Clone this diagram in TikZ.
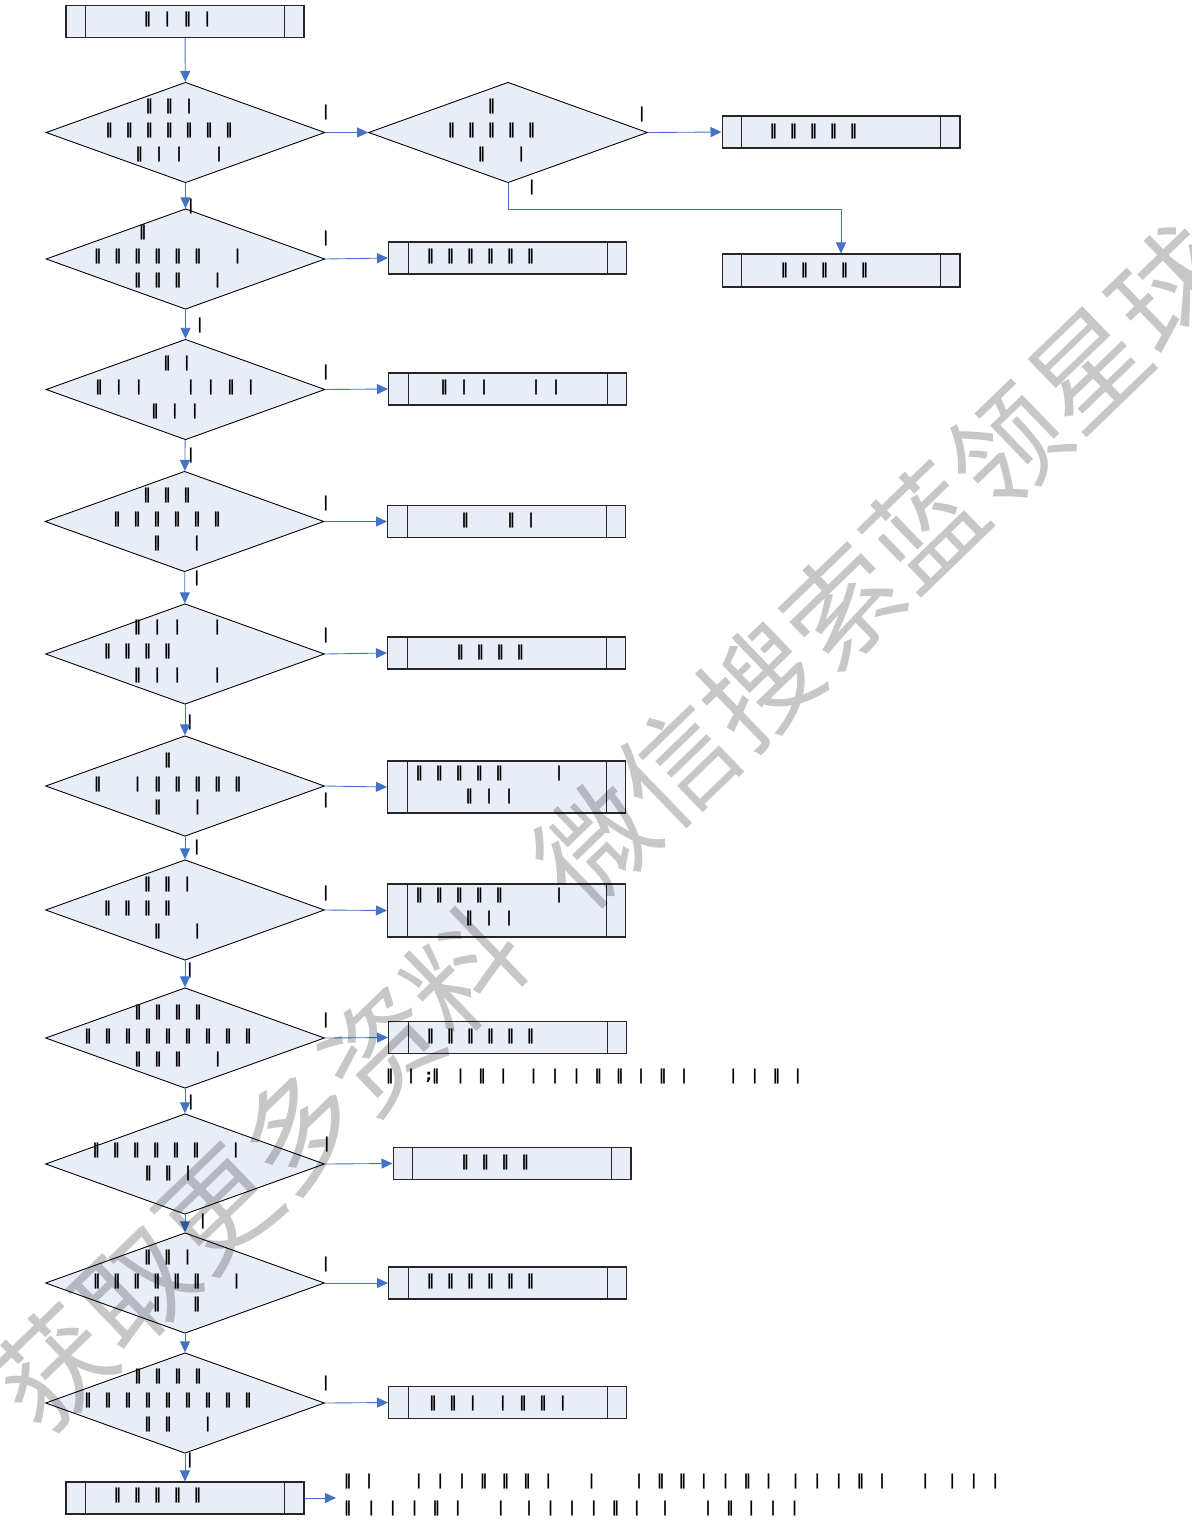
\documentclass[tikz,border=0pt]{standalone}
\usepackage{fontspec}
\usepackage{tikz}
\usetikzlibrary{shapes.geometric, arrows.meta}
\newfontfamily\barfont{DejaVu Sans}
\newfontfamily\cjkfont{Noto Sans CJK SC}
\definecolor{flowfill}{RGB}{232,237,248}
\definecolor{flowblue}{RGB}{68,114,196}
\newlength{\cellw}
\setlength{\cellw}{0.4cm}
\newcommand{\dbar}{\makebox[\cellw]{‖}}
\newcommand{\sbar}{\makebox[\cellw]{|}}
\newcommand{\nobar}{\hspace*{\cellw}}
\newcommand{\skipc}[1]{\hspace*{#1\cellw}}
\newcommand{\barsize}{\barfont\bfseries\fontsize{8.6}{13.5}\selectfont}
\tikzset{
    dec/.style={diamond, draw, line width=0.5pt, fill=flowfill,
        minimum width=5.58cm, minimum height=2.01cm, inner sep=0pt},
    proc/.style={rectangle, draw=black!85, line width=0.6pt, fill=flowfill,
        minimum width=4.76cm, minimum height=0.64cm, inner sep=0pt,
        path picture={
            \draw[line width=0.5pt] ([xshift=0.39cm]path picture bounding box.north west) -- ([xshift=0.39cm]path picture bounding box.south west);
            \draw[line width=0.5pt] ([xshift=-0.39cm]path picture bounding box.north east) -- ([xshift=-0.39cm]path picture bounding box.south east);
        }},
    flow/.style={draw=flowblue, line width=0.5pt, -{Triangle[length=0.22cm, width=0.2cm]}},
    bars/.style={font=\barsize, inner sep=0pt, anchor=west, align=left},
    lab/.style={font=\barsize, inner sep=0pt}
}

\begin{document}
\begin{tikzpicture}[x=0.02cm, y=-0.02cm]
    \useasboundingbox (0,0) rectangle (1192,1522);
    % shapes
    \node[proc] (start) at (185,21.5) {};
    \node[dec] (d1) at (185.5,132.5) {};
    \node[dec] (d1b) at (508,132.5) {};
    \node[proc] (bx1) at (841,132) {};
    \node[proc, minimum height=0.66cm] (bx1c) at (841,270.5) {};
    \node[dec] (d2) at (185.5,259) {};
    \node[proc] (bx2) at (507.5,258) {};
    \node[dec] (d3) at (185.5,389.5) {};
    \node[proc] (bx3) at (507.5,389) {};
    \node[dec] (d4) at (184.5,521.5) {};
    \node[proc] (bx4) at (506.5,521.5) {};
    \node[dec] (d5) at (185,654) {};
    \node[proc] (bx5) at (506.5,653) {};
    \node[dec] (d6) at (185,786) {};
    \node[proc, minimum height=1.04cm] (bx6) at (506.5,787) {};
    \node[dec] (d7) at (185,910) {};
    \node[proc, minimum height=1.06cm] (bx7) at (506.5,910.5) {};
    \node[dec] (d8) at (185,1038) {};
    \node[proc] (bx8) at (507.5,1037.5) {};
    \node[dec] (d9) at (185,1164) {};
    \node[proc] (bx9) at (512,1163.5) {};
    \node[dec] (d10) at (185,1283) {};
    \node[proc] (bx10) at (507.5,1283) {};
    \node[dec] (d11) at (185,1403) {};
    \node[proc] (bx11) at (507.5,1402.5) {};
    \node[proc] (end) at (185,1498) {};
    \coordinate (endtip) at (336,1498);

    % texts
    \node[bars] (t0) at (137,20) {\dbar\sbar\dbar\sbar};
    \node[bars] (t1) at (98.7,130.5) {\nobar\nobar\dbar\dbar\sbar\\ \dbar\dbar\dbar\dbar\dbar\dbar\dbar\\ \skipc{1.5}\dbar\sbar\sbar\nobar\sbar};
    \node[bars] (t1b) at (441,130.5) {\nobar\nobar\dbar\\ \dbar\dbar\dbar\dbar\dbar\\ \skipc{1.5}\dbar\nobar\sbar};
    \node[bars] (tb1) at (763,131.5) {\dbar\dbar\dbar\dbar\dbar};
    \node[bars] (tb1c) at (774,270) {\dbar\dbar\dbar\dbar\dbar};
    \node[bars] (t2) at (87.4,256.5) {\skipc{2.25}\dbar\\ \dbar\dbar\dbar\dbar\dbar\dbar\nobar\sbar\\ \nobar\nobar\dbar\dbar\dbar\nobar\sbar};
    \node[bars] (tb2) at (420,256.7) {\dbar\dbar\dbar\dbar\dbar\dbar};
    \node[bars] (t3) at (88.6,387.3) {\skipc{3.4}\dbar\sbar\\ \dbar\sbar\sbar\skipc{1.6}\sbar\sbar\dbar\sbar\\ \skipc{2.8}\dbar\sbar\sbar};
    \node[bars] (tb3) at (433.7,387) {\dbar\sbar\sbar\skipc{1.6}\sbar\sbar};
    \node[bars] (t4) at (106.5,519.5) {\skipc{1.5}\dbar\dbar\dbar\\ \dbar\dbar\dbar\dbar\dbar\dbar\\ \nobar\nobar\dbar\nobar\sbar};
    \node[bars] (tb4) at (454.8,520) {\dbar\skipc{1.3}\dbar\sbar};
    \node[bars] (t5) at (97,651.7) {\skipc{1.5}\dbar\sbar\sbar\nobar\sbar\\ \dbar\dbar\dbar\dbar\\ \skipc{1.5}\dbar\sbar\sbar\nobar\sbar};
    \node[bars] (tb5) at (449.8,652) {\dbar\dbar\dbar\dbar};
    \node[bars] (t6) at (87.4,784) {\skipc{3.5}\dbar\\ \dbar\nobar\sbar\dbar\dbar\dbar\dbar\dbar\\ \skipc{3}\dbar\nobar\sbar};
    \node[bars] (tb6) at (408.9,785) {\dbar\dbar\dbar\dbar\dbar\nobar\nobar\sbar\\ \skipc{2.5}\dbar\sbar\sbar};
    \node[bars] (t7) at (97,908) {\nobar\nobar\dbar\dbar\sbar\\ \dbar\dbar\dbar\dbar\\ \skipc{2.5}\dbar\nobar\sbar};
    \node[bars] (tb7) at (408.9,907) {\dbar\dbar\dbar\dbar\dbar\nobar\nobar\sbar\\ \skipc{2.5}\dbar\sbar\sbar};
    \node[bars] (t8) at (77.5,1036) {\skipc{2.5}\dbar\dbar\dbar\dbar\\ \dbar\dbar\dbar\dbar\dbar\dbar\dbar\dbar\dbar\\ \skipc{2.5}\dbar\dbar\dbar\nobar\sbar};
    \node[bars] (tb8) at (420,1036) {\dbar\dbar\dbar\dbar\dbar\dbar};
    \node[bars, font={\barsize\setlength{\cellw}{0.43cm}}] (note) at (378.5,1076.7)
        {\dbar\sbar\makebox[\cellw]{;‖}\skipc{.3}\sbar\dbar\sbar\skipc{.4}\sbar\sbar\sbar\dbar\dbar\sbar\dbar\sbar\skipc{1.3}\sbar\sbar\dbar\sbar};
    \node[bars] (t9) at (85.7,1162) {\dbar\dbar\dbar\dbar\dbar\dbar\nobar\sbar\\ \skipc{2.6}\dbar\dbar\sbar};
    \node[bars] (tb9) at (454.8,1162) {\dbar\dbar\dbar\dbar};
    \node[bars] (t10) at (86.4,1281) {\skipc{2.55}\dbar\dbar\sbar\\ \dbar\dbar\dbar\dbar\dbar\dbar\nobar\sbar\\ \skipc{3}\dbar\nobar\dbar};
    \node[bars] (tb10) at (420,1281) {\dbar\dbar\dbar\dbar\dbar\dbar};
    \node[bars] (t11) at (77.5,1400.4) {\skipc{2.5}\dbar\dbar\dbar\dbar\\ \dbar\dbar\dbar\dbar\dbar\dbar\dbar\dbar\dbar\\ \skipc{3}\dbar\dbar\nobar\sbar};
    \node[bars] (tb11) at (422.5,1403) {\dbar\dbar\sbar\skipc{.5}\sbar\dbar\dbar\sbar};
    \node[bars] (tend) at (107,1495) {\dbar\dbar\dbar\dbar\dbar};
    \node[bars, font={\barfont\bfseries\fontsize{8.6}{15.4}\selectfont\setlength{\cellw}{0.432cm}}] (tfoot) at (336.5,1495.4)
        {\dbar\sbar\skipc{1.3}\sbar\sbar\sbar\dbar\dbar\dbar\sbar\nobar\sbar\skipc{1.2}\sbar\dbar\dbar\sbar\sbar\dbar\sbar\skipc{.25}\sbar\sbar\sbar\dbar\sbar\nobar\sbar\skipc{.25}\sbar\sbar\sbar\\
         \dbar\skipc{.1}\sbar\sbar\sbar\dbar\sbar\nobar\sbar\skipc{.3}\sbar\sbar\sbar\sbar\dbar\sbar\skipc{.3}\sbar\nobar\sbar\dbar\sbar\sbar\sbar};

    % connector labels
    \node[lab] (r1) at (326,113) {|};
    \node[lab] (r1b) at (642,115) {|};
    \node[lab] (b1b) at (532,188) {|};
    \node[lab] (b1) at (191,207) {|};
    \node[lab] (r2) at (326,239) {|};
    \node[lab] (b2) at (200,326) {|};
    \node[lab] (r3) at (326,372) {|};
    \node[lab] (b3) at (191,455) {|};
    \node[lab] (r4) at (326,503) {|};
    \node[lab] (b4) at (197,578) {|};
    \node[lab] (r5) at (326,635) {|};
    \node[lab] (b5) at (190,722) {|};
    \node[lab] (r6) at (326,800) {|};
    \node[lab] (b6) at (197,847) {|};
    \node[lab] (r7) at (326,893) {|};
    \node[lab] (b7) at (190,970) {|};
    \node[lab] (r8) at (326,1020) {|};
    \node[lab] (b8) at (191,1102) {|};
    \node[lab] (r9) at (327,1144) {|};
    \node[lab] (b9) at (203,1221) {|};
    \node[lab] (r10) at (326,1264) {|};
    \node[lab] (r11) at (326,1383) {|};
    \node[lab] (b11) at (190,1460) {|};

    % connectors
    \draw[flow] (start) -- (d1);
    \draw[flow] (d1) -- (d1b);
    \draw[flow] (d1b.east) -- (bx1.west);
    \draw[flow] (d1b.south) -- ++(0,26) -| (bx1c.north);
    \draw[flow] (d1) -- (d2);
    \draw[flow] (d2) -- (d3);
    \draw[flow] (d3) -- (d4);
    \draw[flow] (d4) -- (d5);
    \draw[flow] (d5) -- (d6);
    \draw[flow] (d6) -- (d7);
    \draw[flow] (d7) -- (d8);
    \draw[flow] (d8) -- (d9);
    \draw[flow] (d9) -- (d10);
    \draw[flow] (d10) -- (d11);
    \draw[flow] (d11) -- (end);
    \draw[flow] (d2.east) -- (bx2.west);
    \draw[flow] (d3.east) -- (bx3.west);
    \draw[flow] (d4.east) -- (bx4.west);
    \draw[flow] (d5.east) -- (bx5.west);
    \draw[flow] (d6.east) -- (bx6.west);
    \draw[flow] (d7.east) -- (bx7.west);
    \draw[flow] (d8.east) -- (bx8.west);
    \draw[flow] (d9.east) -- (bx9.west);
    \draw[flow] (d10.east) -- (bx10.west);
    \draw[flow] (d11.east) -- (bx11.west);
    \draw[flow] (end.east) -- (endtip);

    % watermark
    \node[font=\cjkfont\fontsize{65}{65}\selectfont, text=black, text opacity=0.22,
        rotate=44, inner sep=0pt] (mark) at (612,828) {获取更多资料\hspace{0.6em}微信搜索蓝领星球};
\end{tikzpicture}
\end{document}
